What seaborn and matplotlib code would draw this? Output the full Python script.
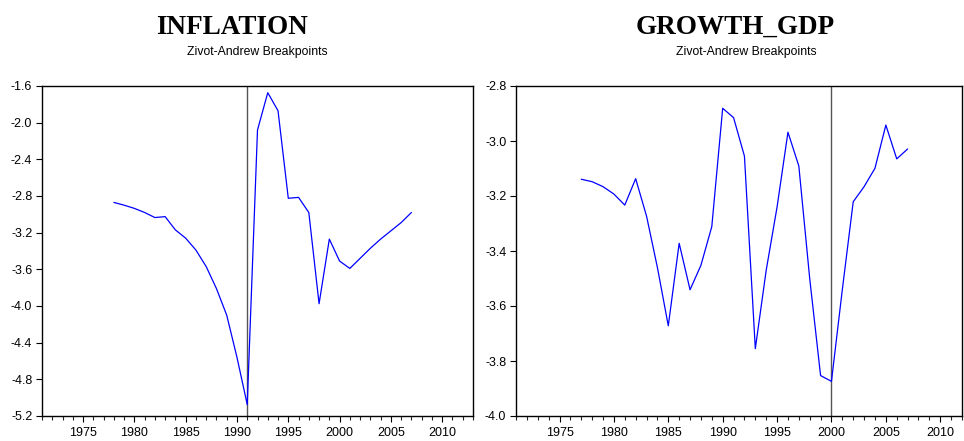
import matplotlib
matplotlib.use("Agg")
import matplotlib.pyplot as plt
import seaborn as sns
import pandas as pd
from matplotlib.ticker import MultipleLocator

infl_years = list(range(1978, 2008))
infl_values = [-2.87, -2.90, -2.935, -2.98, -3.035, -3.025, -3.17, -3.26, -3.39, -3.57,
               -3.81, -4.10, -4.56, -5.076, -2.08, -1.673, -1.87, -2.825, -2.815, -2.98,
               -3.975, -3.27, -3.51, -3.59, -3.48, -3.37, -3.27, -3.18, -3.09, -2.98]
infl_break = 1991

gdp_years = list(range(1977, 2008))
gdp_values = [-3.139, -3.148, -3.166, -3.193, -3.233, -3.137, -3.273, -3.46, -3.672, -3.372,
              -3.541, -3.452, -3.311, -2.881, -2.915, -3.055, -3.755, -3.47, -3.24, -2.968,
              -3.091, -3.50, -3.853, -3.874, -3.54, -3.221, -3.166, -3.099, -2.942, -3.065,
              -3.029]
gdp_break = 2000

titles = ["INFLATION", "GROWTH_GDP"]
subtitle = "Zivot-Andrew Breakpoints"

sns.set_style("ticks")
plt.rcParams['font.family'] = ['Liberation Sans', 'DejaVu Sans']
plt.rcParams['text.color'] = 'black'

fig = plt.figure(figsize=(9.64, 4.41), dpi=100)
ax1 = fig.add_axes([42/964, 1-416/441, (473-42)/964, 330/441])
ax2 = fig.add_axes([516/964, 1-416/441, (962-516)/964, 330/441])

panels = [
    (ax1, infl_years, infl_values, infl_break, (1971, 2013), (-5.2, -1.6), 0.4, "%.1f"),
    (ax2, gdp_years, gdp_values, gdp_break, (1971, 2012), (-4.0, -2.8), 0.2, "%.1f"),
]

for ax, yrs, vals, brk, xl, yl, ystep, fmt in panels:
    df = pd.DataFrame({"year": yrs, "value": vals})
    ax.axvline(brk, color="#555555", lw=1.0, zorder=1)
    sns.lineplot(data=df, x="year", y="value", ax=ax, color="#0000ff", lw=0.9, zorder=2)
    ax.set_xlim(*xl)
    ax.set_ylim(*yl)
    ax.xaxis.set_major_locator(MultipleLocator(5))
    ax.xaxis.set_minor_locator(MultipleLocator(1))
    ax.yaxis.set_major_locator(MultipleLocator(ystep))
    ax.yaxis.set_major_formatter(matplotlib.ticker.FormatStrFormatter(fmt))
    ax.set_xlabel("")
    ax.set_ylabel("")
    for s in ax.spines.values():
        s.set_visible(True)
        s.set_color("black")
        s.set_linewidth(1.0)
    ax.tick_params(axis="both", which="major", direction="out", length=4, width=0.8,
                   labelsize=9, colors="black", pad=3)
    ax.tick_params(axis="x", which="minor", direction="out", length=3, width=0.8)
    ax.tick_params(axis="x", which="major", pad=4)

fig.text(232/964, 1-27/441, titles[0], ha="center", va="center", color="black",
         fontfamily="Liberation Serif", fontweight="bold", fontsize=19.5)
fig.text(257/964, 1-52/441, subtitle, ha="center", va="center", fontsize=8.8,
         color="black")
fig.text(735/964, 1-27/441, titles[1], ha="center", va="center", color="black",
         fontfamily="Liberation Serif", fontweight="bold", fontsize=19.5)
fig.text(746/964, 1-52/441, subtitle, ha="center", va="center", fontsize=8.8,
         color="black")

fig.savefig("out.png", dpi=100)
